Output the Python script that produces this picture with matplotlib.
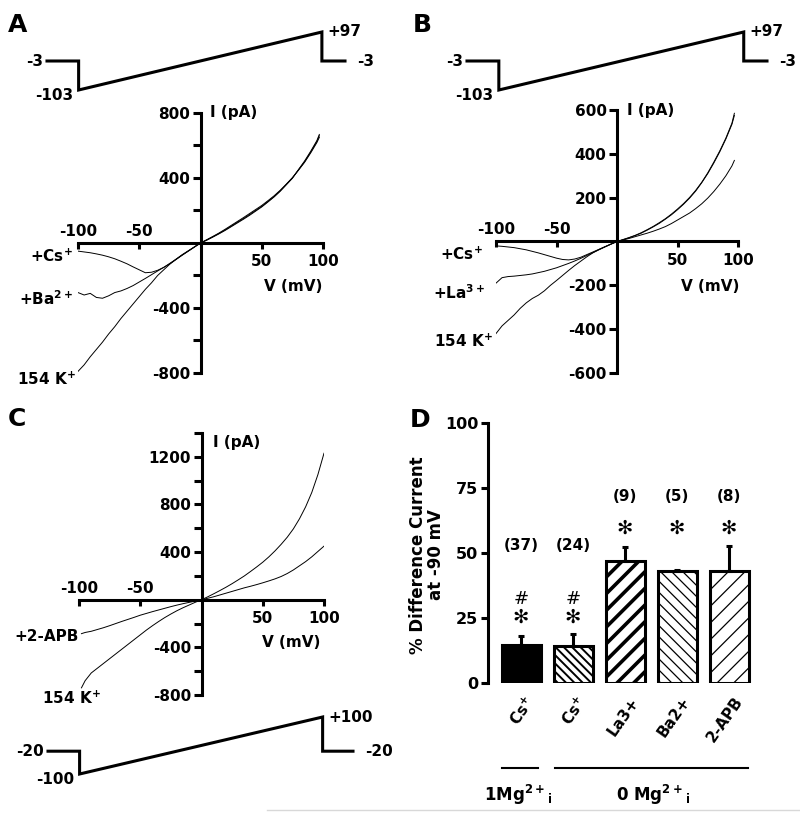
import numpy as np
import matplotlib
matplotlib.use("Agg")
import matplotlib.pyplot as plt

plt.rcParams['font.family'] = ['DejaVu Sans']
plt.rcParams['font.weight'] = 'bold'
plt.rcParams['mathtext.fontset'] = 'dejavusans'
plt.rcParams['mathtext.default'] = 'bf'

W, H = 800, 813
fig = plt.figure(figsize=(W / 100, H / 100), dpi=100)

# ---------------- data ----------------
# Panel A (mV, pA)
A_v = [-100, -95, -90, -85, -80, -75, -70, -65, -60, -55, -50, -45, -40, -35, -30, -25, -20, -15, -10, -5,
       0, 5, 10, 15, 20, 25, 30, 35, 40, 45, 50, 55, 60, 65, 70, 75, 80, 85, 90, 95, 97]
A_K = [-790, -750, -700, -655, -610, -560, -515, -465, -420, -375, -330, -285, -245, -200, -165, -130, -100, -72, -48, -24,
       0, 18, 38, 58, 80, 103, 127, 150, 175, 200, 225, 255, 285, 320, 360, 400, 450, 500, 560, 625, 660]
A_Cs = [-50, -55, -60, -67, -75, -85, -97, -112, -128, -147, -165, -183, -180, -168, -150, -128, -102, -75, -50, -25,
        0, 20, 40, 61, 84, 108, 132, 156, 181, 206, 231, 260, 290, 324, 362, 402, 448, 497, 555, 618, 650]
A_Ba = [-305, -320, -310, -335, -340, -325, -305, -295, -280, -262, -240, -218, -195, -172, -150, -125, -100, -75, -50, -25,
        0, 17, 36, 56, 77, 100, 123, 146, 170, 196, 222, 252, 283, 318, 358, 398, 452, 505, 565, 630, 668]

# Panel B
B_v = A_v
B_K = [-420, -385, -360, -335, -305, -280, -260, -245, -225, -200, -178, -155, -132, -110, -90, -70, -52, -37, -24, -12,
       0, 8, 17, 27, 38, 52, 67, 83, 102, 122, 145, 170, 198, 230, 268, 310, 358, 410, 468, 535, 575]
B_Cs = [-20, -22, -25, -28, -33, -38, -45, -52, -60, -68, -76, -82, -84, -80, -72, -60, -48, -36, -24, -12,
        0, 9, 18, 28, 40, 54, 69, 86, 104, 125, 148, 173, 201, 233, 270, 313, 362, 414, 472, 540, 585]
B_La = [-190, -165, -160, -158, -155, -152, -148, -142, -136, -128, -120, -110, -100, -89, -77, -64, -51, -38, -25, -12,
        0, 7, 14, 22, 30, 38, 47, 57, 68, 82, 98, 114, 130, 150, 172, 198, 228, 262, 300, 345, 370]

# Panel C
C_v = [-98, -95, -90, -85, -80, -75, -70, -65, -60, -55, -50, -45, -40, -35, -30, -25, -20, -15, -10, -5,
       0, 5, 10, 15, 20, 25, 30, 35, 40, 45, 50, 55, 60, 65, 70, 75, 80, 85, 90, 95, 100]
C_K = [-740, -680, -615, -575, -535, -495, -455, -415, -375, -335, -295, -255, -218, -183, -150, -120, -92, -67, -44, -21,
       0, 24, 50, 77, 105, 135, 167, 200, 237, 275, 315, 360, 410, 465, 525, 595, 680, 780, 900, 1050, 1230]
C_APB = [-285, -275, -265, -250, -235, -218, -200, -182, -165, -148, -130, -115, -100, -86, -72, -58, -45, -33, -22, -11,
         0, 12, 25, 40, 55, 70, 85, 100, 113, 127, 142, 158, 175, 195, 220, 250, 285, 320, 360, 405, 450]

# Voltage protocols (time in ms, voltage in mV)
protAB_t = [-26, 0, 0, 200, 200, 19 + 200]
protAB_v = [-3, -3, -103, 97, -3, -3]
protC_t = [-26, 0, 0, 200, 200, 25 + 200]
protC_v = [-20, -20, -100, 100, -20, -20]

# Panel D
D_labels = ['Cs$^{+}$', 'Cs$^{+}$', 'La3+', 'Ba2+', '2-APB']
D_means = [14.8, 14.1, 46.9, 43.2, 43.2]
D_sem = [3.2, 4.9, 5.5, 0.4, 9.5]
D_n = ['(37)', '(24)', '(9)', '(5)', '(8)']

LW = 2.2
FS = 11
STAR = '\u273b'


def px_axes(l, r, t, b):
    return fig.add_axes([l / W, 1 - b / H, (r - l) / W, (b - t) / H])


def iv_panel(l, r, t, b, ylim, major, minor, ticklabels_y):
    ax = px_axes(l, r, t, b)
    ax.set_xlim(-100, 100)
    ax.set_ylim(*ylim)
    ax.patch.set_visible(False)
    for s in ['top', 'right']:
        ax.spines[s].set_visible(False)
    ax.spines['left'].set_position(('data', 0))
    ax.spines['bottom'].set_position(('data', 0))
    ax.spines['left'].set_linewidth(LW)
    ax.spines['bottom'].set_linewidth(LW)
    ax.set_xticks([-100, -50, 50, 100])
    ax.set_xticklabels([])
    ax.tick_params(axis='x', direction='out', length=4.5, width=LW)
    ax.set_yticks(major)
    ax.set_yticklabels(ticklabels_y, fontsize=FS, fontweight='bold')
    ax.set_yticks(minor, minor=True)
    ax.tick_params(axis='y', which='both', direction='out', length=5.5, width=LW, pad=2)
    for v in [-100, -50]:
        ax.annotate(str(v), (v, 0), xytext=(0, 3), textcoords='offset points',
                    ha='center', va='bottom', fontsize=FS)
    for v in [50, 100]:
        ax.annotate(str(v), (v, 0), xytext=(0, -8), textcoords='offset points',
                    ha='center', va='top', fontsize=FS)
    return ax


def protocol(l, r, t, b, tt, vv, labels):
    ax = px_axes(l, r, t, b)
    ax.plot(tt, vv, color='black', lw=LW, solid_joinstyle='miter', clip_on=False)
    ax.set_xlim(min(tt), max(tt))
    ax.set_ylim(min(vv), max(vv))
    ax.axis('off')
    (lab0, lab1, lab2, lab3) = labels
    ax.annotate(lab0, (tt[0], vv[0]), xytext=(-3, 0), textcoords='offset points', ha='right', va='center', fontsize=FS)
    ax.annotate(lab1, (tt[2], vv[2]), xytext=(-4, -4), textcoords='offset points', ha='right', va='center', fontsize=FS)
    ax.annotate(lab2, (tt[3], vv[3]), xytext=(4, 0), textcoords='offset points', ha='left', va='center', fontsize=FS)
    ax.annotate(lab3, (tt[5], vv[5]), xytext=(9, 0), textcoords='offset points', ha='left', va='center', fontsize=FS)
    return ax


# ---------------- Panel A ----------------
axA = iv_panel(78, 323, 113, 373, (-800, 800), [800, 400, -400, -800], [600, 200, -200, -600],
               ['800', '400', '-400', '-800'])
for yy in [A_K, A_Cs, A_Ba]:
    axA.plot(A_v, yy, color='black', lw=0.7)
axA.text(8, 800, 'I (pA)', ha='left', va='center', fontsize=FS)
axA.text(76, -270, 'V (mV)', ha='center', va='center', fontsize=FS)
axA.text(-104, -80, '+Cs$^{+}$', ha='right', va='center', fontsize=FS)
axA.text(-104, -345, '+Ba$^{2+}$', ha='right', va='center', fontsize=FS)
axA.text(-102, -837, '154 K$^{+}$', ha='right', va='center', fontsize=FS)
protocol(47, 345, 32, 90, protAB_t, protAB_v, ['-3', '-103', '+97', '-3'])

# ---------------- Panel B ----------------
axB = iv_panel(496, 738, 110, 373, (-600, 600), [600, 400, 200, -200, -400, -600], [],
               ['600', '400', '200', '-200', '-400', '-600'])
for yy in [B_K, B_Cs, B_La]:
    axB.plot(B_v, yy, color='black', lw=0.7)
axB.text(8, 600, 'I (pA)', ha='left', va='center', fontsize=FS)
axB.text(77, -205, 'V (mV)', ha='center', va='center', fontsize=FS)
axB.text(-111, -59, '+Cs$^{+}$', ha='right', va='center', fontsize=FS)
axB.text(-109, -233, '+La$^{3+}$', ha='right', va='center', fontsize=FS)
axB.text(-103, -457, '154 K$^{+}$', ha='right', va='center', fontsize=FS)
protocol(467, 767, 32, 90, protAB_t, protAB_v, ['-3', '-103', '+97', '-3'])

# ---------------- Panel C ----------------
axC = iv_panel(79, 324, 433, 695, (-800, 1400), [1200, 800, 400, -400, -800], [1400, 1000, 600, 200, -200, -600],
               ['1200', '800', '400', '-400', '-800'])
for yy in [C_K, C_APB]:
    axC.plot(C_v, yy, color='black', lw=0.7)
axC.text(9, 1320, 'I (pA)', ha='left', va='center', fontsize=FS)
axC.text(73, -360, 'V (mV)', ha='center', va='center', fontsize=FS)
axC.text(-100, -311, '+2-APB', ha='right', va='center', fontsize=FS)
axC.text(-82, -824, '154 K$^{+}$', ha='right', va='center', fontsize=FS)
protocol(48, 353, 717, 774, protC_t, protC_v, ['-20', '-100', '+100', '-20'])

# ---------------- Panel D ----------------
axD = px_axes(488, 755, 423, 683)
axD.set_ylim(0, 100)
axD.set_xlim(-0.635, 4.5)
axD.patch.set_visible(False)
for s in ['top', 'right', 'bottom']:
    axD.spines[s].set_visible(False)
axD.spines['left'].set_linewidth(LW)
axD.set_xticks([])
axD.set_yticks([0, 25, 50, 75, 100])
axD.set_yticklabels(['0', '25', '50', '75', '100'], fontsize=FS + 0.5)
axD.tick_params(axis='y', direction='out', length=5, width=LW, pad=2)

x = np.arange(len(D_means))
styles = [('black', '', 1.0), ('white', '\\\\\\\\', 1.4), ('white', '//', 2.6), ('white', '\\\\\\', 0.9), ('white', '//', 0.9)]
for i in range(len(x)):
    fc, hatch, hlw = styles[i]
    with plt.rc_context({'hatch.linewidth': hlw}):
        bars = axD.bar(x[i], D_means[i], width=0.75, color=fc, edgecolor='black', linewidth=LW,
                       hatch=hatch if hatch else None)
    for p in bars:
        if hasattr(p, 'set_hatch_linewidth'):
            p.set_hatch_linewidth(hlw)
axD.errorbar(x, D_means, yerr=[np.zeros(len(x)), D_sem], fmt='none', ecolor='black',
             elinewidth=LW, capsize=2.5, capthick=LW, zorder=3)

for i in range(len(x)):
    if i < 2:
        axD.text(x[i], 53, D_n[i], ha='center', va='center', fontsize=FS)
        axD.text(x[i], 32.5, '#', ha='center', va='center', fontsize=13, fontweight='normal')
        axD.text(x[i], 25.4, STAR, ha='center', va='center', fontsize=14, fontweight='normal')
    else:
        axD.text(x[i], 71.7, D_n[i], ha='center', va='center', fontsize=FS)
        axD.text(x[i], 59.5, STAR, ha='center', va='center', fontsize=14, fontweight='normal')
    axD.text(x[i] + 0.2, -6, D_labels[i], ha='right', va='center', rotation=55,
             rotation_mode='anchor', fontsize=FS, clip_on=False)

axD.plot([-0.365, 0.327], [-32.7, -32.7], color='black', lw=1.5, clip_on=False)
axD.plot([0.654, 4.365], [-32.7, -32.7], color='black', lw=1.5, clip_on=False)
axD.text(-0.06, -43, '1Mg$^{2+}{}_{i}$', ha='center', va='center', fontsize=FS + 1, clip_on=False)
axD.text(2.54, -43, '0 Mg$^{2+}{}_{i}$', ha='center', va='center', fontsize=FS + 1, clip_on=False)

fig.text(427 / W, 1 - 555 / H, '% Difference Current\nat -90 mV', rotation=90, ha='center', va='center',
         fontsize=12, multialignment='center', linespacing=1.0)

# panel letters
for lab, (px, py) in {'A': (8, 13), 'B': (413, 13), 'C': (8, 407), 'D': (410, 408)}.items():
    fig.text(px / W, 1 - py / H, lab, ha='left', va='top', fontsize=18, fontweight='bold')

# thin grey border fragment at bottom
fig.add_artist(plt.Line2D([267 / W, 1.0], [1 - 810 / H, 1 - 810 / H], color='#d8d8d8', lw=1))

fig.savefig('out.png', dpi=100)
